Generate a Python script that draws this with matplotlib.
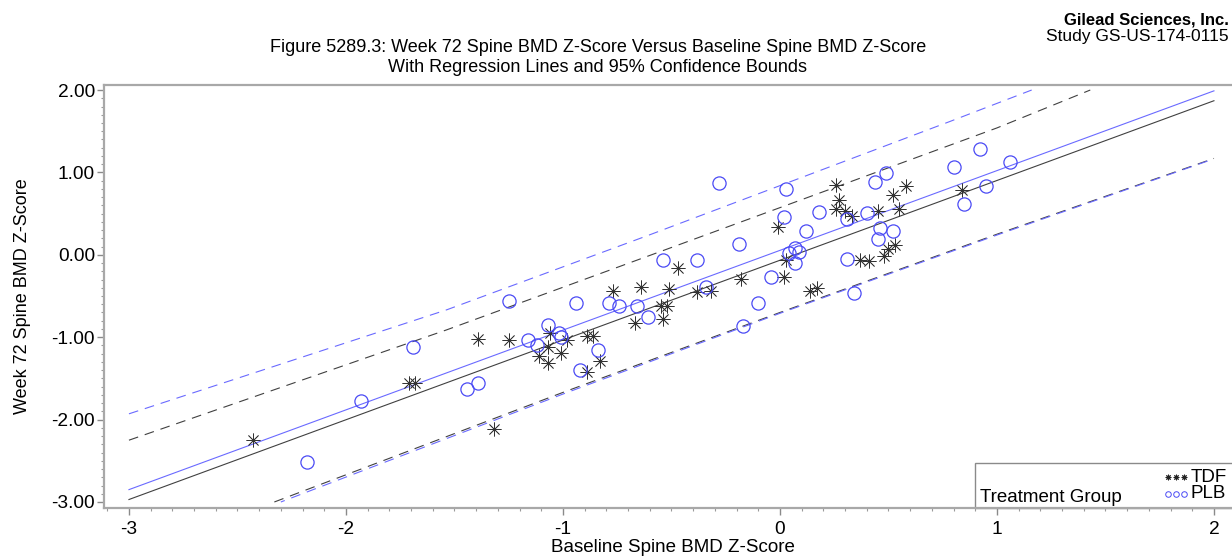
import numpy as np
import matplotlib
matplotlib.use('Agg')
import matplotlib.pyplot as plt
from matplotlib.ticker import MultipleLocator, FormatStrFormatter
from matplotlib.patches import Rectangle

plt.rcParams['font.family'] = ['Liberation Sans', 'DejaVu Sans']
plt.rcParams['axes.unicode_minus'] = False
plt.rcParams['lines.scale_dashes'] = False

# TDF (stars): baseline z-score, week 72 z-score
tdf_x = [-2.43, -1.71, -1.68, -1.39, -1.25, -1.06, -0.98, -1.07, -1.11, -1.07,
         -1.01, -0.89, -0.86, -0.83, -0.89, -1.32, -0.67, -0.54, -0.55, -0.52,
         -0.77, -0.64, -0.51, -0.47, -0.38, -0.32, -0.18, 0.02, -0.01, 0.03,
         0.14, 0.17, 0.37, 0.41, 0.26, 0.27, 0.26, 0.30, 0.33, 0.45,
         0.52, 0.58, 0.55, 0.50, 0.53, 0.48, 0.84]
tdf_y = [-2.25, -1.55, -1.55, -1.02, -1.04, -0.95, -1.04, -1.12, -1.23, -1.31,
         -1.19, -0.98, -0.98, -1.29, -1.42, -2.12, -0.83, -0.78, -0.62, -0.62,
         -0.44, -0.39, -0.42, -0.16, -0.45, -0.44, -0.29, -0.27, 0.34, -0.06,
         -0.44, -0.40, -0.06, -0.08, 0.85, 0.67, 0.56, 0.53, 0.47, 0.53,
         0.73, 0.84, 0.55, 0.07, 0.12, -0.02, 0.79]

# PLB (circles)
plb_x = [-2.18, -1.93, -1.69, -1.44, -1.39, -1.25, -1.16, -1.12, -1.07, -1.02,
         -1.01, -0.84, -0.92, -0.94, -0.79, -0.74, -0.66, -0.61, -0.54, -0.38,
         -0.34, -0.28, -0.19, -0.10, -0.04, -0.17, 0.02, 0.03, 0.04, 0.07,
         0.09, 0.07, 0.12, 0.18, 0.31, 0.34, 0.31, 0.40, 0.44, 0.49,
         0.46, 0.52, 0.45, 0.80, 0.92, 0.95, 0.85, 1.06]
plb_y = [-2.51, -1.78, -1.12, -1.63, -1.55, -0.56, -1.03, -1.09, -0.85, -0.95,
         -1.00, -1.16, -1.40, -0.58, -0.59, -0.62, -0.62, -0.75, -0.06, -0.06,
         -0.39, 0.87, 0.13, -0.58, -0.27, -0.87, 0.46, 0.80, 0.02, 0.08,
         0.04, -0.10, 0.29, 0.52, -0.05, -0.46, 0.43, 0.51, 0.88, 0.99,
         0.33, 0.29, 0.19, 1.06, 1.29, 0.84, 0.62, 1.13]

# regression lines (intercept, slope) over x range
fit_x = [-3.0, 2.0]
tdf_fit = (-0.066, 0.968)
plb_fit = (0.054, 0.968)

# 95% bounds
tdf_hi_x = [-3.0, -1.535, -0.567, 1.0, 1.43]
tdf_hi_y = [-2.25, -0.91, 0.024, 1.54, 2.0]
plb_hi_x = [-3.0, -1.535, -0.6, 0.783, 1.16]
plb_hi_y = [-1.93, -0.667, 0.243, 1.618, 2.0]
tdf_lo_x = [-2.33, -1.0, 0.0, 1.0, 2.0]
tdf_lo_y = [-3.0, -1.67, -0.70, 0.25, 1.17]
plb_lo_x = [-2.30, -1.0, 0.0, 1.0, 2.0]
plb_lo_y = [-3.0, -1.69, -0.71, 0.24, 1.165]

W, H = 1232, 558
fig = plt.figure(figsize=(W/100, H/100), dpi=100)
ax = fig.add_axes([104/W, 1-508/H, 1137/W, 423/H])

blk = '#404040'
blu = '#6a6aff'
dash = (0, (7, 5))

fx = np.array(fit_x)
ax.plot(fx, tdf_fit[0] + tdf_fit[1]*fx, color=blk, lw=0.8)
ax.plot(fx, plb_fit[0] + plb_fit[1]*fx, color=blu, lw=0.8)
ax.plot(tdf_hi_x, tdf_hi_y, color=blk, lw=0.8, linestyle=dash)
ax.plot(plb_hi_x, plb_hi_y, color=blu, lw=0.8, linestyle=dash)
ax.plot(tdf_lo_x, tdf_lo_y, color=blk, lw=0.8, linestyle=dash)
ax.plot(plb_lo_x, plb_lo_y, color=blu, lw=0.8, linestyle=(4, (7, 5)))

ax.plot(tdf_x, tdf_y, linestyle='none', marker=(8, 2, 0), markersize=10,
        markeredgecolor='#333333', markeredgewidth=0.55)
ax.plot(plb_x, plb_y, linestyle='none', marker='o', markersize=9.5,
        markerfacecolor='none', markeredgecolor='#4a4af5', markeredgewidth=0.9)

ax.set_xlim(-3.115, -3.115 + 1137/217)
ax.set_ylim(-3.073, 2.061)

ax.xaxis.set_major_locator(MultipleLocator(1))
ax.xaxis.set_minor_locator(MultipleLocator(0.1))
ax.yaxis.set_major_locator(MultipleLocator(1))
ax.yaxis.set_minor_locator(MultipleLocator(0.1))
ax.xaxis.set_major_formatter(FormatStrFormatter('%d'))
ax.yaxis.set_major_formatter(FormatStrFormatter('%.2f'))
ax.tick_params(which='major', direction='out', length=5, width=1, color='#8a8a8a',
               labelsize=13.8, labelcolor='black')
ax.tick_params(which='minor', direction='out', length=2.5, width=0.8, color='#9a9a9a')
ax.tick_params(axis='y', which='major', pad=1.5)
ax.tick_params(axis='x', which='major', pad=4)

for s in ['left', 'top', 'bottom']:
    ax.spines[s].set_color('#a8a8a8')
    ax.spines[s].set_linewidth(1.6)
ax.spines['right'].set_visible(False)

ax.set_xlabel('Baseline Spine BMD Z-Score', fontsize=13.5, labelpad=1)
ax.set_ylabel('Week 72 Spine BMD Z-Score', fontsize=13, labelpad=15)

# legend box
lx0 = (975-104)/1137
ax.add_patch(Rectangle((lx0, 0), 1.0 - lx0, 45/423, transform=ax.transAxes,
                       fill=False, edgecolor='#8a8a8a', lw=1, clip_on=False))
ax.text((980-104)/1137, (508-497)/423, 'Treatment Group', transform=ax.transAxes,
        fontsize=13.5, va='center', ha='left')
ax.text((1191-104)/1137, (508-477)/423, 'TDF', transform=ax.transAxes,
        fontsize=13.5, va='center', ha='left')
ax.text((1191-104)/1137, (508-494)/423, 'PLB', transform=ax.transAxes,
        fontsize=13.5, va='center', ha='left')
lgx = [(p-104)/1137 for p in (1168, 1176, 1184)]
ax.plot(lgx, [(508-477)/423]*3, transform=ax.transAxes, linestyle='none',
        marker=(8, 2, 0), markersize=4, markeredgecolor='#222222',
        markeredgewidth=0.7, clip_on=False)
ax.plot(lgx, [(508-494)/423]*3, transform=ax.transAxes, linestyle='none',
        marker='o', markersize=4, markerfacecolor='none',
        markeredgecolor='#4a4af5', markeredgewidth=0.7, clip_on=False)

# titles
fig.text(598/W, 1-48/H, 'Figure 5289.3: Week 72 Spine BMD Z-Score Versus Baseline Spine BMD Z-Score',
         ha='center', va='center', fontsize=13)
fig.text(598/W, 1-67/H, 'With Regression Lines and 95% Confidence Bounds',
         ha='center', va='center', fontsize=13)
fig.text(1229/W, 1-20/H, 'Gilead Sciences, Inc.', ha='right', va='center',
         fontsize=12, fontweight='bold')
fig.text(1229/W, 1-37/H, 'Study GS-US-174-0115', ha='right', va='center', fontsize=12.5)

fig.savefig('out.png', dpi=100)
